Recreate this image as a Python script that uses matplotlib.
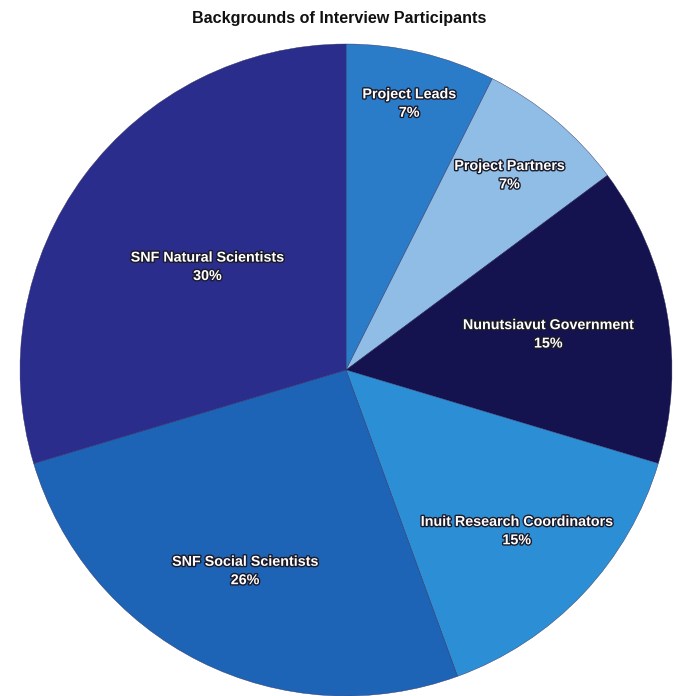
import numpy as np
import matplotlib.pyplot as plt
import matplotlib.patheffects as pe

# participant counts (27 total), clockwise from 12 o'clock
categories = ['Project Leads', 'Project Partners', 'Nunutsiavut Government',
              'Inuit Research Coordinators', 'SNF Social Scientists',
              'SNF Natural Scientists']
counts = [2, 2, 4, 4, 7, 8]

colors = ['#2a7cc8', '#8fbde6', '#15134f', '#2c8fd5', '#1d63b6', '#2b2d8d']
# where each label sits along its wedge's mid radius (fraction of radius)
label_r = [0.84, 0.78, 0.63, 0.72, 0.69, 0.53]

fig = plt.figure(figsize=(6.78, 6.96), dpi=100, facecolor='white')
ax = fig.add_axes([20 / 678, 0.0, 652 / 678, 652 / 696])

wedges, _ = ax.pie(counts, colors=colors, startangle=90, counterclock=False,
                   radius=1.0, center=(0, 0), frame=False,
                   wedgeprops=dict(linewidth=0.3, edgecolor='#303060'))
ax.set_xlim(-1, 1)
ax.set_ylim(-1, 1)
ax.set_aspect('equal')
ax.axis('off')

total = sum(counts)
shadow = [pe.withStroke(linewidth=2.0, foreground='#1a1a2a')]
for w, name, c, r in zip(wedges, categories, counts, label_r):
    mid = np.deg2rad((w.theta1 + w.theta2) / 2)
    pct = round(100 * c / total)
    ax.text(r * np.cos(mid), r * np.sin(mid), f'{name}\n{pct}%',
            ha='center', va='center', color='white', fontsize=10.3,
            fontweight='bold', family=['Liberation Sans', 'DejaVu Sans'],
            linespacing=1.4, path_effects=shadow)

fig.text(0.5, 1 - 19 / 696, 'Backgrounds of Interview Participants',
         ha='center', va='center', fontsize=11.6, fontweight='bold',
         family=['Liberation Sans', 'DejaVu Sans'], color='#111111')

plt.savefig('out.png', dpi=100, facecolor='white')
plt.close()
